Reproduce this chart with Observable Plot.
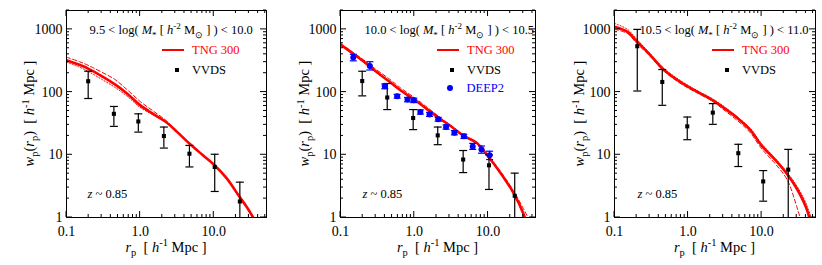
<!DOCTYPE html>
<html><head><meta charset="utf-8">
<script src="https://cdn.jsdelivr.net/npm/d3@7"></script>
<script src="https://cdn.jsdelivr.net/npm/@observablehq/plot@0.6"></script>
<style>
html,body{margin:0;padding:0;background:#fff;}
#wrap{position:relative;width:822px;height:265px;overflow:hidden;}
#wrap svg{position:absolute;top:0;}
text{white-space:pre;}
</style></head><body><div id="wrap"></div>
<script>
// ---------- data ----------
const rGrid = [0.1,0.15,0.2,0.3,0.45,0.65,1.0,1.5,2.2,3.2,4.7,7,10,15,22,30,40,50];

const tng1Solid  = [322,272,235,180,134,97,62,45,34,23,15,10,7,4.2,2.2,1.3,0.7,0.3];
const tng1Dashed = [360,305,265,208,160,112,71,50,36,23.7,15.3,10.2,7.1,4.25,2.2,1.3,0.7,0.3];
const tng1Dotted = [300,250,212,160,120,88,57,43,33,22.5,15,10,7,4.1,2.1,1.25,0.68,0.3];

const tng2Solid  = [575,405,315,215,150,107,76,53,38,28,20,15.5,9.5,5.0,2.5,1.17,0.4,0.2];
const tng2Dashed = [600,425,335,232,165,117,82,57,40,29,20.5,15.8,9.8,5.3,2.7,1.4,0.7,0.3];
const tng2Dotted = [560,395,305,208,146,104,74,52,37.5,27.5,19.8,15.2,9.3,4.9,2.4,1.12,0.38,0.2];

const tng3Solid  = [1100,910,650,400,237,168,122,94,73,54,38.5,25,14,8.5,5,2.9,1.47,0.6];
const tng3Dashed = [1000,860,600,380,225,160,116,90,70,50,35,22.5,12.5,7.4,4.1,1.5,0.45,0.15];
const tng3Dotted = [1250,1000,700,420,250,178,128,98,77,57,40,26.5,15,9,5.3,3.2,1.7,0.8];

const vvds1X  = [0.197,0.44,0.945,2.1,4.67,10.3,22.6];
const vvds1Y  = [149,45,34,19.9,10.4,6.4,1.8];
const vvds1Hi = [215,59,45,27.7,14.1,10.2,3.66];
const vvds1Lo = [79,28.4,23,12.8,6.4,2.6,0.5];

const vvds2X  = [0.197,0.43,0.966,2.08,4.6,10.3,23];
const vvds2Y  = [150,82,38.6,20.4,8.4,6.8,2.22];
const vvds2Hi = [215,137,52.6,27.7,11.7,10,5.1];
const vvds2Lo = [87,52.6,25.2,14.5,5.2,2.8,0.5];

const deep2X  = [0.149,0.25,0.398,0.586,0.81,0.985,1.21,1.61,2.11,2.7,3.5,4.7,6.2,8.15,10.5];
const deep2Y  = [356,261,124,86,76,74,48,44,36.8,27.7,22.5,19.7,13.6,12.1,9.8];
const deep2Hi = [400,305,135,92,82,80,52,47.5,39.5,30,24.3,21.3,15.2,13.8,11.4];
const deep2Lo = [315,225,113,80,70,68,44.5,41,34.3,25.6,20.8,18.2,12.2,10.6,8.4];

const vvds3X  = [0.204,0.446,0.975,2.17,4.82,10.5,23];
const vvds3Y  = [539,145,28.4,47,10.6,3.76,5.8];
const vvds3Hi = [1000,229,40,65.5,14.7,5.6,12.2];
const vvds3Lo = [104,61.5,17.4,30.6,6.5,1.82,0.5];

const xTickValues = [0.1,1,10];
const xTickLabels = ["0.1","1.0","10.0"];
const yTickValues = [1,10,100,1000];
const yTickLabels = ["1","10","100","1000"];
const binLow  = ["9.5","10.0","10.5"];
const binHigh = ["10.0","10.5","11.0"];
const redshift = "0.85";
const seriesNames = ["TNG 300","VVDS","DEEP2"];

// ---------- layout ----------
const H = 265, MT = 10, MB = 48;
const FONT = "'Liberation Serif','Times New Roman',serif";
const panels = [
  {left:0,   width:275, ml:66, mr:9,  xmax:52, solid:tng1Solid, dashed:tng1Dashed, dotted:tng1Dotted,
   vx:vvds1X, vy:vvds1Y, vhi:vvds1Hi, vlo:vvds1Lo, deep:false},
  {left:275, width:275, ml:65, mr:15, xmax:44, solid:tng2Solid, dashed:tng2Dashed, dotted:tng2Dotted,
   vx:vvds2X, vy:vvds2Y, vhi:vvds2Hi, vlo:vvds2Lo, deep:true},
  {left:550, width:272, ml:64, mr:7,  xmax:54, solid:tng3Solid, dashed:tng3Dashed, dotted:tng3Dotted,
   vx:vvds3X, vy:vvds3Y, vhi:vvds3Hi, vlo:vvds3Lo, deep:false}
];

const cap = w => ({draw(ctx){ ctx.moveTo(-w,0); ctx.lineTo(w,0); }});

function rich(sel, parts, fs){
  let shift = 0;
  parts.forEach(p => {
    const target = p.sub ? fs*0.3 : p.sup ? -fs*0.38 : 0;
    const ts = sel.append("tspan").text(p.t);
    if (target !== shift){ ts.attr("dy", target - shift); shift = target; }
    if (p.i) ts.attr("font-style","italic");
    if (p.sub || p.sup) ts.attr("font-size", fs*0.72);
  });
}

const wrap = document.getElementById("wrap");

panels.forEach((P, k) => {
  const tng = rGrid.map((r,i) => ({r, solid:P.solid[i], dashed:P.dashed[i], dotted:P.dotted[i]}));
  const vv = P.vx.map((x,i) => ({x, y:P.vy[i], hi:P.vhi[i], lo:P.vlo[i]}));
  const dp = deep2X.map((x,i) => ({x, y:deep2Y[i], hi:deep2Hi[i], lo:deep2Lo[i]}));

  const marks = [
    Plot.line(tng, {x:"r", y:"dotted", stroke:"red", strokeWidth:1, strokeDasharray:"1.2,1.8", curve:"catmull-rom", clip:true}),
    Plot.line(tng, {x:"r", y:"dashed", stroke:"red", strokeWidth:1, strokeDasharray:"4,2.5", curve:"catmull-rom", clip:true}),
    Plot.line(tng, {x:"r", y:"solid", stroke:"red", strokeWidth:2.6, curve:"catmull-rom", clip:true}),
    Plot.ruleX(vv, {x:"x", y1:"lo", y2:"hi", stroke:"black", strokeWidth:1.2, clip:true}),
    Plot.dot(vv, {x:"x", y:"hi", symbol:cap(4), stroke:"black", strokeWidth:1.2, clip:true}),
    Plot.dot(vv, {x:"x", y:"lo", symbol:cap(4), stroke:"black", strokeWidth:1.2, clip:true}),
    Plot.dot(vv, {x:"x", y:"y", symbol:"square", r:2.3, fill:"black", stroke:null})
  ];
  if (P.deep){
    marks.push(
      Plot.ruleX(dp, {x:"x", y1:"lo", y2:"hi", stroke:"blue", strokeWidth:1.2, clip:true}),
      Plot.dot(dp, {x:"x", y:"hi", symbol:cap(3.5), stroke:"blue", strokeWidth:1.2}),
      Plot.dot(dp, {x:"x", y:"lo", symbol:cap(3.5), stroke:"blue", strokeWidth:1.2}),
      Plot.dot(dp, {x:"x", y:"y", r:3, fill:"blue", stroke:null})
    );
  }
  marks.push(
    Plot.frame({stroke:"black", strokeWidth:1}),
    Plot.axisX({ticks:xTickValues, tickFormat:d => xTickLabels[xTickValues.indexOf(d)], tickSize:0, tickPadding:9, fontSize:14, label:null}),
    Plot.axisY({ticks:yTickValues, tickFormat:d => yTickLabels[yTickValues.indexOf(d)], tickSize:0, tickPadding:4, fontSize:14, label:null})
  );

  const plot = Plot.plot({
    width:P.width, height:H, marginLeft:P.ml, marginRight:P.mr, marginTop:MT, marginBottom:MB,
    x:{type:"log", domain:[0.1, P.xmax]},
    y:{type:"log", domain:[1, 2000]},
    style:{fontFamily:FONT, background:"transparent", color:"black", overflow:"visible"},
    marks
  });
  plot.style.left = P.left + "px";
  wrap.appendChild(plot);

  const svg = d3.select(plot);
  const sx = plot.scale("x"), sy = plot.scale("y");
  const x0 = P.ml, x1 = P.width - P.mr, y0 = MT, y1 = H - MB;

  // inward major/minor ticks on all four sides
  const tg = svg.append("g").attr("stroke","black").attr("stroke-width",1).attr("fill","none");
  for (let d=-1; d<=3; d++) for (let m=1; m<=9; m++){
    const v = m*Math.pow(10,d);
    const len = m===1 ? 6 : 3;
    if (v>=0.1 && v<=P.xmax){
      const px = sx.apply(v);
      tg.append("line").attr("x1",px).attr("x2",px).attr("y1",y1).attr("y2",y1-len);
      tg.append("line").attr("x1",px).attr("x2",px).attr("y1",y0).attr("y2",y0+len);
    }
    if (v>=1 && v<=2000){
      const py = sy.apply(v);
      tg.append("line").attr("y1",py).attr("y2",py).attr("x1",x0).attr("x2",x0+len);
      tg.append("line").attr("y1",py).attr("y2",py).attr("x1",x1).attr("x2",x1-len);
    }
  }

  const fs = 12.5;
  const ann = svg.append("g").attr("font-family",FONT).attr("fill","black").attr("text-anchor","start");
  // mass bin title
  rich(ann.append("text").attr("x",89.5).attr("y",34).attr("font-size",fs), [
    {t:`${binLow[k]} < log( `},{t:"M",i:true},{t:"*",sub:true},{t:" [ "},{t:"h",i:true},{t:"-2",sup:true},
    {t:" M"},{t:"⊙",sub:true},{t:" ] ) < "+binHigh[k]}], fs);
  // legend
  ann.append("line").attr("x1",162).attr("x2",184).attr("y1",50).attr("y2",50).attr("stroke","red").attr("stroke-width",2);
  ann.append("text").attr("x",192).attr("y",54.3).attr("font-size",fs).attr("fill","red").text(seriesNames[0]);
  ann.append("rect").attr("x",177-2).attr("y",70-2).attr("width",4).attr("height",4).attr("fill","black");
  ann.append("text").attr("x",192).attr("y",74.3).attr("font-size",fs).text(seriesNames[1]);
  if (P.deep){
    ann.append("circle").attr("cx",175).attr("cy",88).attr("r",3).attr("fill","blue");
    ann.append("text").attr("x",191.5).attr("y",92.3).attr("font-size",fs).attr("fill","blue").text(seriesNames[2]);
  }
  // redshift
  rich(ann.append("text").attr("x",87.5).attr("y",198).attr("font-size",fs), [
    {t:"z",i:true},{t:" ~ "+redshift}], fs);
  // axis titles
  const fa = 14.5;
  rich(ann.append("text").attr("x",(x0+x1)/2).attr("y",251.5).attr("text-anchor","middle").attr("font-size",fa), [
    {t:"r",i:true},{t:"p",sub:true},{t:"  [ "},{t:"h",i:true},{t:"-1",sup:true},{t:" Mpc ]"}], fa);
  rich(ann.append("text").attr("transform",`translate(34,${(y0+y1)/2}) rotate(-90)`).attr("text-anchor","middle").attr("font-size",fa), [
    {t:"w",i:true},{t:"p",sub:true},{t:"("},{t:"r",i:true},{t:"p",sub:true},{t:")  [ "},{t:"h",i:true},{t:"-1",sup:true},{t:" Mpc ]"}], fa);
});
</script>
</body></html>
